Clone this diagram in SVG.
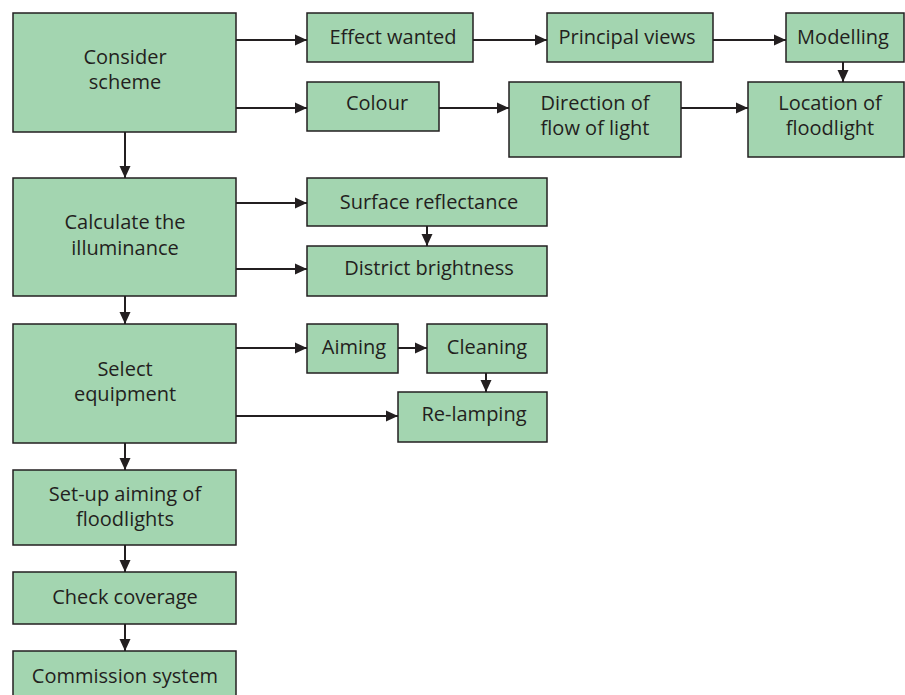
<svg xmlns="http://www.w3.org/2000/svg" width="905" height="695" viewBox="0 0 905 695">
<defs>
<marker id="ah" viewBox="0 0 12 12" refX="12" refY="6" markerWidth="12" markerHeight="12" markerUnits="userSpaceOnUse" orient="auto">
<path d="M0,0.5 L12,6 L0,11.5 z" fill="#231f20"/>
</marker>
<style>
.b{fill:#a3d5b0;stroke:#231f20;stroke-width:1.5}
.t{font-family:"Open Sans","Noto Sans",sans-serif;font-size:20px;fill:#231f20;text-anchor:middle}
.c{stroke:#231f20;stroke-width:2;fill:none;marker-end:url(#ah)}
</style>
</defs>
<rect width="905" height="695" fill="#fff"/>
<g id="connectors">
<path class="c" d="M236,40 H307"/>
<path class="c" d="M236,108 H307"/>
<path class="c" d="M473,40 H547"/>
<path class="c" d="M439,108 H509"/>
<path class="c" d="M713,40 H786"/>
<path class="c" d="M681,108 H748"/>
<path class="c" d="M843,62 V82"/>
<path class="c" d="M125,132 V178"/>
<path class="c" d="M236,203 H307"/>
<path class="c" d="M236,269 H307"/>
<path class="c" d="M427,226 V246"/>
<path class="c" d="M125,296 V324"/>
<path class="c" d="M236,348 H307"/>
<path class="c" d="M398,348 H427"/>
<path class="c" d="M486,373 V392"/>
<path class="c" d="M236,416 H398"/>
<path class="c" d="M125,443 V470"/>
<path class="c" d="M125,545 V572"/>
<path class="c" d="M125,624 V651"/>
</g>
<g id="consider"><rect class="b" x="13" y="13" width="223" height="119"/><text class="t" x="125" y="64">Consider</text><text class="t" x="125" y="89">scheme</text></g>
<g id="effect"><rect class="b" x="307" y="13" width="166" height="49"/><text class="t" x="393" y="44">Effect wanted</text></g>
<g id="principal"><rect class="b" x="547" y="13" width="166" height="49"/><text class="t" x="627" y="44">Principal views</text></g>
<g id="modelling"><rect class="b" x="786" y="13" width="118" height="49"/><text class="t" x="843" y="44">Modelling</text></g>
<g id="colour"><rect class="b" x="307" y="82" width="132" height="49"/><text class="t" x="377" y="110">Colour</text></g>
<g id="direction"><rect class="b" x="509" y="82" width="172" height="75"/><text class="t" x="595" y="110">Direction of</text><text class="t" x="595" y="135">flow of light</text></g>
<g id="location"><rect class="b" x="748" y="82" width="156" height="75"/><text class="t" x="830" y="110">Location of</text><text class="t" x="830" y="135">floodlight</text></g>
<g id="calculate"><rect class="b" x="13" y="178" width="223" height="118"/><text class="t" x="125" y="229">Calculate the</text><text class="t" x="125" y="255">illuminance</text></g>
<g id="surface"><rect class="b" x="307" y="178" width="240" height="48"/><text class="t" x="429" y="209">Surface reflectance</text></g>
<g id="district"><rect class="b" x="307" y="246" width="240" height="50"/><text class="t" x="429" y="275">District brightness</text></g>
<g id="select"><rect class="b" x="13" y="324" width="223" height="119"/><text class="t" x="125" y="376">Select</text><text class="t" x="125" y="401">equipment</text></g>
<g id="aiming"><rect class="b" x="307" y="324" width="91" height="49"/><text class="t" x="354" y="354">Aiming</text></g>
<g id="cleaning"><rect class="b" x="427" y="324" width="120" height="49"/><text class="t" x="487" y="354">Cleaning</text></g>
<g id="relamping"><rect class="b" x="398" y="392" width="149" height="50"/><text class="t" x="474" y="421">Re-lamping</text></g>
<g id="setup"><rect class="b" x="13" y="470" width="223" height="75"/><text class="t" x="125" y="501">Set-up aiming of</text><text class="t" x="125" y="526">floodlights</text></g>
<g id="check"><rect class="b" x="13" y="572" width="223" height="52"/><text class="t" x="125" y="604">Check coverage</text></g>
<g id="commission"><rect class="b" x="13" y="651" width="223" height="60"/><text class="t" x="125" y="683">Commission system</text></g>
</svg>
